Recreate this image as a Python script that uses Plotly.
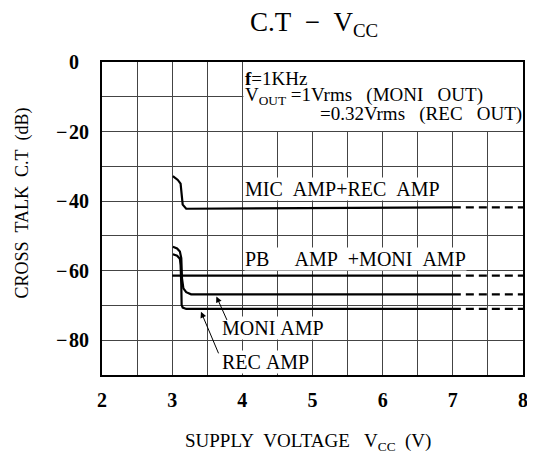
import plotly.graph_objects as go

# ---- data ----
mic_x = [3.01, 3.08, 3.12, 3.15, 3.20, 7.0]
mic_y = [-32.8, -33.9, -35.0, -41.0, -42.2, -41.8]

pb_x = [3.0, 7.0]
pb_y = [-61.4, -61.4]

moni_x = [3.01, 3.07, 3.11, 3.13, 3.14, 3.16, 3.20, 3.27, 7.0]
moni_y = [-53.1, -53.6, -54.5, -56.4, -62.2, -65.1, -66.2, -66.8, -66.8]

rec_x = [3.01, 3.07, 3.11, 3.12, 3.13, 3.135, 3.15, 3.20, 7.0]
rec_y = [-55.3, -55.7, -56.6, -58.4, -64.1, -69.9, -70.6, -71.0, -71.0]

ext_x = [7.0, 8.0]  # dashed extrapolation region

x_tickvals = [2, 2.5, 3, 3.5, 4, 4.5, 5, 5.5, 6, 6.5, 7, 7.5, 8]
x_ticktext = ["2", "", "3", "", "4", "", "5", "", "6", "", "7", "", "8"]
y_tickvals = [0, -10, -20, -30, -40, -50, -60, -70, -80, -90]
NB = "&nbsp;"
y_ticktext = ["0" + NB * 2, "", "\u2212\u200a20", "", "\u2212\u200a40", "",
              "\u2212\u200a60", "", "\u2212\u200a80", ""]

SERIF = "Liberation Serif"

# page has an 8px body margin, so the figure is 8px smaller than the window
W, H = 527, 447
ML, MR, MT, MB = 94, 12, 54, 80
PW = W - ML - MR
PH = H - MT - MB

fig = go.Figure()

solid = dict(color="black", width=2.2)
dashed = dict(color="black", width=2.2, dash="8px,5px")

for xs, ys in [(mic_x, mic_y), (pb_x, pb_y), (moni_x, moni_y), (rec_x, rec_y)]:
    fig.add_trace(go.Scatter(x=xs, y=ys, mode="lines", line=solid,
                             showlegend=False, hoverinfo="skip"))
    fig.add_trace(go.Scatter(x=ext_x, y=[ys[-1], ys[-1]], mode="lines",
                             line=dashed, showlegend=False, hoverinfo="skip"))

# blank area behind the conditions text (no grid there)
fig.add_shape(type="rect", x0=4.015, x1=8, y0=-19.85, y1=0,
              fillcolor="white", line_width=0, layer="between")


def label(x, y, text, xanchor="left", bg="white", size=20):
    fig.add_annotation(x=x, y=y, text=text, showarrow=False, xanchor=xanchor,
                       yanchor="middle", font=dict(family=SERIF, size=size, color="black"),
                       bgcolor=bg, borderpad=0)

label(4.03, -36.4, "MIC&nbsp;&nbsp;AMP+REC&nbsp;&nbsp;AMP")
label(4.03, -56.6, "PB&nbsp;&nbsp;&nbsp;&nbsp;&nbsp;AMP&nbsp;&nbsp;+MONI&nbsp;&nbsp;AMP")
label(3.70, -76.5, "MONI&nbsp;AMP")
label(3.70, -86.3, "REC&nbsp;AMP")

clear = "rgba(0,0,0,0)"
label(4.03, -4.6, "<b>f</b>=1KHz", bg=clear, size=19)
label(4.03, -9.9, "V<sub>OUT</sub>&nbsp;=1Vrms&nbsp;&nbsp;&nbsp;(MONI&nbsp;&nbsp;&nbsp;OUT)", bg=clear, size=19)
label(8.0, -15.0, "=0.32Vrms&nbsp;&nbsp;&nbsp;(REC&nbsp;&nbsp;&nbsp;OUT)", xanchor="right", bg=clear, size=19)

# arrows
arrow = dict(showarrow=True, arrowhead=2, arrowsize=1.2, arrowwidth=1,
             arrowcolor="black", axref="x", ayref="y", text="")
fig.add_annotation(x=3.63, y=-67.4, ax=3.79, ay=-74.6, **arrow)
fig.add_annotation(x=3.41, y=-71.8, ax=3.67, ay=-84.2, **arrow)

# title
fig.add_annotation(x=0.504, y=1 + 38 / PH, xref="paper", yref="paper",
                   xanchor="center", yanchor="middle",
                   text="C.T&nbsp;&nbsp;\u2212&nbsp;&nbsp;V<sub>CC</sub>", showarrow=False,
                   font=dict(family=SERIF, size=27, color="black"))

# axis titles (placed as in the reference)
fig.add_annotation(x=(300 - ML) / PW, y=-(434 - (MT + PH)) / PH, xref="paper", yref="paper",
                   xanchor="center", yanchor="middle", showarrow=False,
                   text="SUPPLY&nbsp;&nbsp;VOLTAGE&nbsp;&nbsp;&nbsp;V<sub>CC</sub>&nbsp;&nbsp;(V)",
                   font=dict(family=SERIF, size=19, color="black"))
fig.add_annotation(x=(13.5 - ML) / PW, y=1 - (195 - MT) / PH, xref="paper", yref="paper",
                   xanchor="center", yanchor="middle", showarrow=False, textangle=-90,
                   text="CROSS&nbsp;&nbsp;TALK&nbsp;&nbsp;C.T&nbsp;&nbsp;(dB)",
                   font=dict(family=SERIF, size=18, color="black"))

fig.update_layout(
    width=W, height=H,
    margin=dict(l=ML, r=MR, t=MT, b=MB),
    paper_bgcolor="white", plot_bgcolor="white",
    font=dict(family=SERIF, color="black"),
)

fig.update_xaxes(range=[2, 8], tickvals=x_tickvals, ticktext=x_ticktext,
                 showgrid=True, gridcolor="#444", gridwidth=1, automargin=False,
                 showline=True, linecolor="black", linewidth=2, mirror=True,
                 ticks="", ticklabelstandoff=6, zeroline=False,
                 tickfont=dict(family=SERIF, size=20, color="black", weight="bold"))
fig.update_yaxes(range=[-90, 0], tickvals=y_tickvals, ticktext=y_ticktext,
                 showgrid=True, gridcolor="#444", gridwidth=1, automargin=False,
                 showline=True, linecolor="black", linewidth=2, mirror=True,
                 ticks="", ticklabelstandoff=7, zeroline=False,
                 tickfont=dict(family=SERIF, size=20, color="black", weight="bold"))

fig.write_html("out.html")
